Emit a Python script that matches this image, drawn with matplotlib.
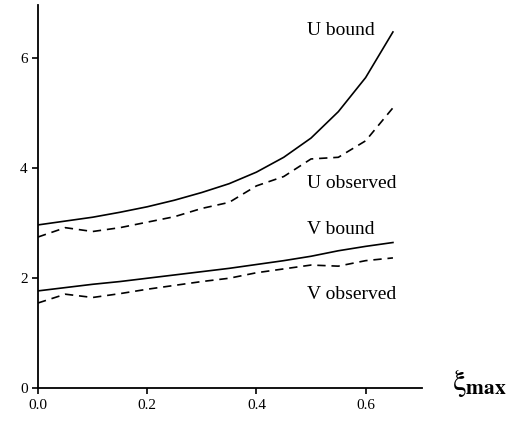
import matplotlib
matplotlib.use("Agg")
import matplotlib.pyplot as plt

plt.rcParams['font.family'] = ['Liberation Serif', 'DejaVu Serif']
plt.rcParams['mathtext.fontset'] = 'stix'

xi = [0.0, 0.05, 0.1, 0.15, 0.2, 0.25, 0.3, 0.35, 0.4, 0.45, 0.5, 0.55, 0.6, 0.65]
u_bound = [2.97, 3.04, 3.11, 3.20, 3.30, 3.42, 3.56, 3.72, 3.93, 4.20, 4.55, 5.03, 5.65, 6.48]
u_obs = [2.75, 2.92, 2.85, 2.92, 3.02, 3.12, 3.27, 3.38, 3.68, 3.85, 4.17, 4.20, 4.50, 5.10]
v_bound = [1.77, 1.83, 1.89, 1.94, 2.00, 2.06, 2.12, 2.18, 2.25, 2.32, 2.40, 2.50, 2.58, 2.65]
v_obs = [1.55, 1.71, 1.65, 1.72, 1.80, 1.87, 1.94, 2.00, 2.10, 2.17, 2.24, 2.22, 2.32, 2.37]

labels = ["U bound", "U observed", "V bound", "V observed"]
label_y = [6.5, 3.73, 2.88, 1.7]

fig = plt.figure(figsize=(5.17, 4.22), dpi=100)
ax = fig.add_axes([0.0735, 0.0801, 0.7425, 0.908])

ax.plot(xi, u_bound, color='black', lw=1.2)
ax.plot(xi, u_obs, color='black', lw=1.2, dashes=(5, 3.5))
ax.plot(xi, v_bound, color='black', lw=1.2)
ax.plot(xi, v_obs, color='black', lw=1.2, dashes=(5, 3.5))

for t, y in zip(labels, label_y):
    ax.text(0.493, y, t, fontsize=14, ha='left', va='center')

ax.set_xlim(0, 0.703)
ax.set_ylim(0, 6.97)
ax.set_xticks([0.0, 0.2, 0.4, 0.6])
ax.set_xticklabels(["0.0", "0.2", "0.4", "0.6"])
ax.set_yticks([0, 2, 4, 6])
ax.spines['top'].set_visible(False)
ax.spines['right'].set_visible(False)
ax.spines['left'].set_linewidth(1.3)
ax.spines['bottom'].set_linewidth(1.3)
ax.tick_params(labelsize=11, length=4, width=1.2)

fig.text(0.875, 0.092, r'$\mathrm{\xi}_{\mathbf{max}}$', fontsize=22, ha='left', va='center')

fig.savefig("out.png", dpi=100)
